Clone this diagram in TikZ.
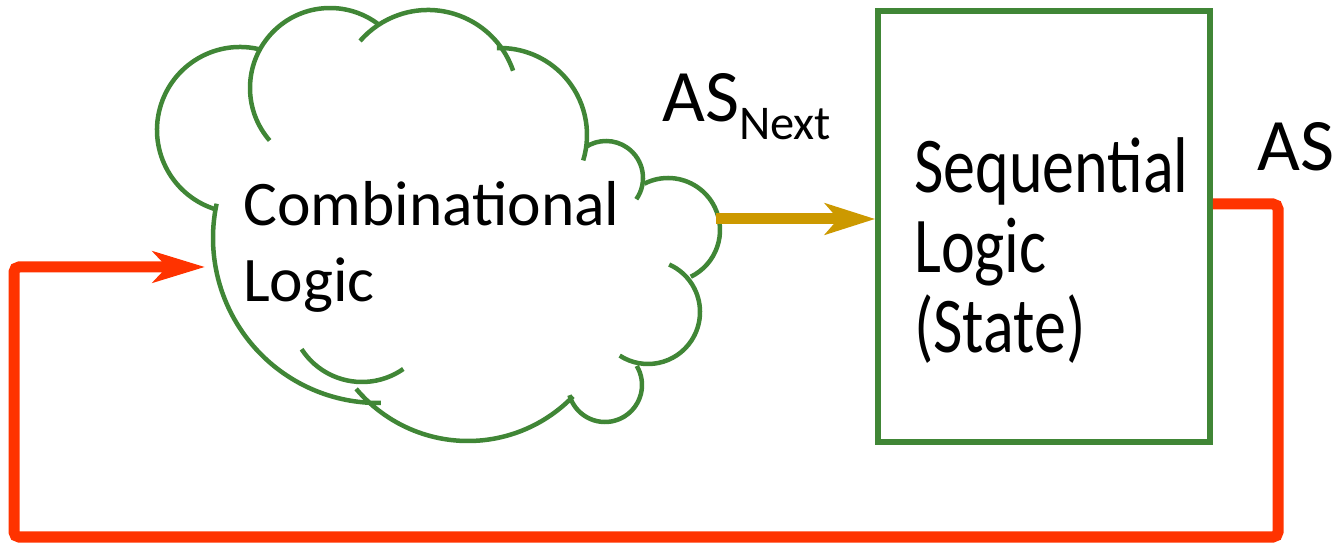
\documentclass[tikz,border=0pt]{standalone}
\usepackage{fontspec}
\setmainfont{Carlito}
\newfontfamily\tallfont{Carlito}[FakeStretch=0.81]
\usetikzlibrary{arrows.meta,positioning}
\definecolor{cloudgreen}{RGB}{64,134,54}
\definecolor{loopred}{RGB}{255,51,0}
\definecolor{nextgold}{RGB}{204,153,0}

\begin{document}
\begin{tikzpicture}[x=1pt,y=1pt]
\tikzstyle{puff}=[draw=cloudgreen,line width=4.5pt]
\tikzstyle{txt}=[inner sep=0pt,anchor=base west,font=\fontsize{63.5}{76}\selectfont]
\tikzstyle{bigtxt}=[inner sep=0pt,anchor=base west,font=\tallfont\fontsize{79}{80}\selectfont]
\tikzstyle{sig}=[inner sep=0pt,anchor=base west,font=\fontsize{74}{80}\selectfont]
\tikzstyle{feedback}=[draw=loopred,line width=11pt,rounded corners=5pt,-{Stealth[length=52pt,width=31pt,inset=14pt]}]
\tikzstyle{nextwire}=[draw=nextgold,line width=11pt,-{Stealth[length=50pt,width=31pt,inset=13pt]}]
\useasboundingbox (0,0) rectangle (1340,543);

% cloud, one arc per puff
\foreach \cx/\cy/\r/\a/\b in {240/413/83/75/254, 330/455/80/52/221,
    428/443/90/19/139, 500/408/87/-17/92, 606/365/37/-35/124,
    668/313/52/-64/117, 648/231/52/-123/66, 605/158/37/-164/31,
    468/248/146/-140/-44, 378/305/165/168/271, 362/233/72/213/305}
  \draw[puff] (\cx,\cy) ++(\a:\r) arc[start angle=\a,end angle=\b,radius=\r];
\node (combA) [txt] at (243,317) {Combinational};
\node (combB) [txt] at ([yshift=-76pt]combA.base west) {Logic};
\coordinate (combin) at (205,276);
\coordinate (combout) at (716,324);

% state box
\node (seq) [draw=cloudgreen,line width=5.5pt,minimum width=332pt,minimum height=431pt,inner sep=0pt] at (1044,316.5) {};
\node (seqA) [bigtxt] at (914,350) {Sequential};
\node (seqB) [bigtxt] at ([yshift=-80pt]seqA.base west) {Logic};
\node (seqC) [bigtxt] at ([yshift=-80pt]seqB.base west) {(State)};

\node (asnext) [sig] at (662,421) {AS\raisebox{-18pt}{\fontsize{48.5}{50}\selectfont Next}};
\node (as) [sig] at (1257,372) {AS};

\coordinate (se) at (1278,6);
\coordinate (sw) at (14,6);
\draw[nextwire] (combout) -- (combout -| seq.west);
\draw[feedback] ([yshift=22.5pt]seq.east) -| (se) -- (sw) |- (combin);
\end{tikzpicture}
\end{document}
